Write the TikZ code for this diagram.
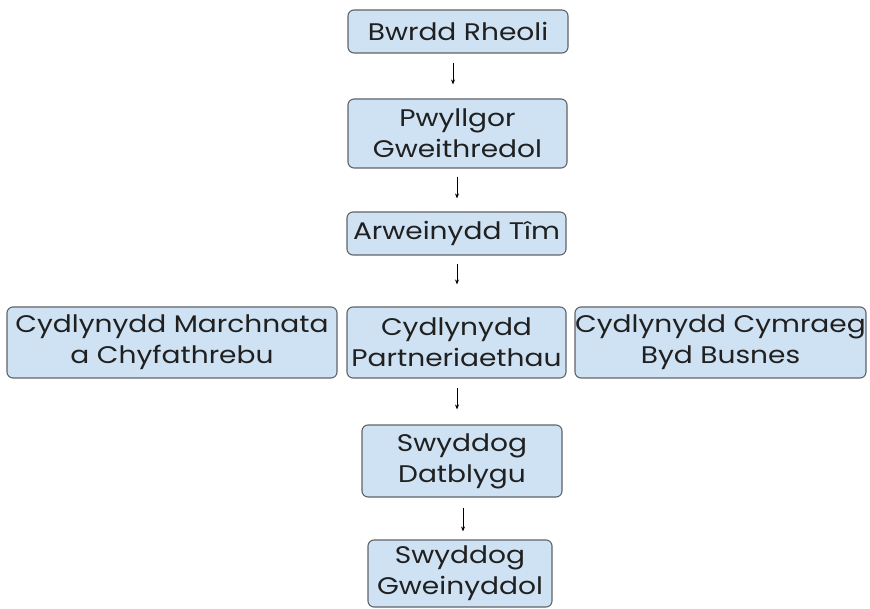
\documentclass[tikz,border=0pt]{standalone}
\usepackage{fontspec}
\setmainfont[FakeStretch=1.17]{Poppins}
\usetikzlibrary{arrows.meta}
\definecolor{boxfill}{HTML}{CFE2F3}
\definecolor{boxline}{HTML}{5F6368}
\definecolor{txt}{HTML}{202020}
\begin{document}
\begin{tikzpicture}[x=1pt,y=1pt,
  box/.style={draw=boxline, line width=1.1pt, fill=boxfill, rounded corners=6pt,
    inner sep=0pt, align=center, text=txt,
    font=\fontsize{24}{31}\selectfont},
  arr/.style={draw=black, line width=0.8pt, -{Stealth[length=5pt,width=4pt]}}]
\useasboundingbox (0,0) rectangle (870,-609);
\node[box, minimum width=220pt, minimum height=43pt] (b1) at (458,-31.5) {Bwrdd Rheoli};
\node[box, minimum width=219pt, minimum height=69pt] (b2) at (457.5,-133.5) {Pwyllgor\\Gweithredol};
\node[box, minimum width=219pt, minimum height=43pt] (b3) at (456.5,-233.5) {Arweinydd Tîm};
\node[box, minimum width=330pt, minimum height=71pt] (l) at (172,-342.5) {Cydlynydd Marchnata\\a Chyfathrebu};
\node[box, minimum width=219pt, minimum height=71pt] (m) at (456.5,-342.5) {Cydlynydd\\Partneriaethau};
\node[box, minimum width=291pt, minimum height=71pt] (r) at (720.5,-342.5) {Cydlynydd Cymraeg\\Byd Busnes};
\node[box, minimum width=200pt, minimum height=72pt] (d) at (462,-461) {Swyddog\\Datblygu};
\node[box, minimum width=184pt, minimum height=67pt] (g) at (460,-573.5) {Swyddog\\Gweinyddol};
\draw[arr, shorten <=9pt, shorten >=14pt] (b1.south -| 453,0) -- (b2.north -| 453,0);
\draw[arr, shorten <=8pt, shorten >=13pt] (b2.south -| 457,0) -- (b3.north -| 457,0);
\draw[arr, shorten <=8pt, shorten >=22pt] (b3.south -| 457,0) -- (m.north -| 457,0);
\draw[arr, shorten <=9pt, shorten >=15pt] (m.south -| 457,0) -- (d.north -| 457,0);
\draw[arr, shorten <=10pt, shorten >=8pt] (d.south -| 463,0) -- (g.north -| 463,0);
\end{tikzpicture}
\end{document}
